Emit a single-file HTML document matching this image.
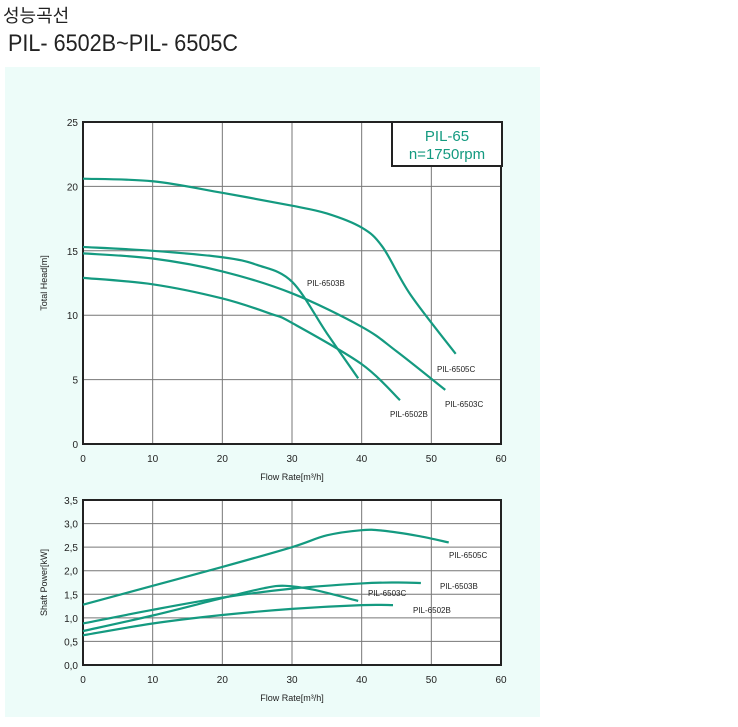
<!DOCTYPE html>
<html><head><meta charset="utf-8"><style>
body{margin:0;width:738px;height:727px;background:#fff;position:relative;overflow:hidden;font-family:"Liberation Sans","Noto Sans CJK KR",sans-serif}
.t1{position:absolute;left:3px;top:2px;font-size:18px;color:#222}
.t2{position:absolute;left:8px;top:30px;font-size:24px;color:#222;transform:scaleX(0.9);transform-origin:left top;white-space:nowrap}
svg{position:absolute;left:0;top:0}
</style></head><body>
<div class="t1">성능곡선</div>
<div class="t2">PIL- 6502B~PIL- 6505C</div>
<svg id="c" width="738" height="727"></svg>
<script>
const xTicks=[0,10,20,30,40,50,60];
const headTicks=[0,5,10,15,20,25];
const powerTicks=["0,0","0,5","1,0","1,5","2,0","2,5","3,0","3,5"];
const headNames=["PIL-6505C","PIL-6503B","PIL-6503C","PIL-6502B"];
const head6505C=[[0,20.6],[10,20.4],[20,19.5],[30,18.5],[35,17.9],[40,16.8],[43,15.3],[47,11.6],[53.5,7]];
const head6503B=[[0,15.3],[10,15],[20,14.5],[25,13.9],[30,12.6],[35,8.6],[39.5,5.1]];
const head6503C=[[0,14.8],[10,14.4],[20,13.4],[30,11.7],[40,9.1],[45,7.2],[52,4.2]];
const head6502B=[[0,12.9],[10,12.4],[20,11.3],[27,10.1],[30,9.4],[40,6.2],[45.5,3.4]];
const pow6505C=[[0,1.28],[10,1.68],[20,2.08],[30,2.5],[35,2.75],[40,2.86],[43,2.85],[48,2.74],[52.5,2.6]];
const pow6503B=[[0,0.88],[10,1.17],[20,1.43],[30,1.62],[40,1.73],[45,1.75],[48.5,1.74]];
const pow6503C=[[0,0.72],[10,1.05],[20,1.42],[26,1.63],[29,1.68],[33,1.6],[39.5,1.36]];
const pow6502B=[[0,0.63],[10,0.88],[20,1.06],[30,1.19],[40,1.27],[44.5,1.27]];
const NS="http://www.w3.org/2000/svg";
const svg=document.getElementById('c');
const GREEN="#149a80";
function el(t,a,p){const e=document.createElementNS(NS,t);for(const k in a)e.setAttribute(k,a[k]);(p||svg).appendChild(e);return e;}
function txt(s,x,y,size,anchor,extra){const e=el('text',Object.assign({x:x,y:y,'font-size':size,'text-anchor':anchor||'middle',fill:'#222','font-family':'Liberation Sans, sans-serif'},extra||{}));e.textContent=s;return e;}
const bg=el('rect',{x:5,y:67,width:535,height:650,fill:'#edfcf9'});


function path(pts,sx,sy){
  const P=pts.map(p=>[sx(p[0]),sy(p[1])]);
  let d='M'+P[0][0]+' '+P[0][1];
  for(let i=0;i<P.length-1;i++){
    const p0=P[i-1]||P[i],p1=P[i],p2=P[i+1],p3=P[i+2]||p2;
    d+=' C'+(p1[0]+(p2[0]-p0[0])/6)+' '+(p1[1]+(p2[1]-p0[1])/6)+' '+(p2[0]-(p3[0]-p1[0])/6)+' '+(p2[1]-(p3[1]-p1[1])/6)+' '+p2[0]+' '+p2[1];
  }
  return d;
}
function chart(L,R,T,B,ymax,yTicks,yLabels,yTitle,series,names,labelPos,name){
  const g=el('g',{});
  
  
  const sx=v=>L+(R-L)*v/60, sy=v=>B-(B-T)*v/ymax;
  el('rect',{x:L,y:T,width:R-L,height:B-T,fill:'#fff'},g);
  xTicks.forEach(v=>{if(v>0&&v<60)el('line',{x1:sx(v),x2:sx(v),y1:T,y2:B,stroke:'#777','stroke-width':1},g);
    const t=txt(String(v),sx(v),B+18,10,'middle');g.appendChild(t);});
  yTicks.forEach((v,i)=>{if(v>0&&v<ymax)el('line',{x1:L,x2:R,y1:sy(v),y2:sy(v),stroke:'#777','stroke-width':1},g);
    const t=txt(yLabels[i],L-5,sy(v)+4,10,'end');g.appendChild(t);});
  el('rect',{x:L,y:T,width:R-L,height:B-T,fill:'none',stroke:'#222','stroke-width':2},g);
  const xt=txt('Flow Rate[m³/h]',(L+R)/2,B+36,9,'middle');g.appendChild(xt);
  
  const yt=txt(yTitle,0,0,9,'middle',{transform:'translate('+(L-36)+','+((T+B)/2)+') rotate(-90)'});g.appendChild(yt);
  
  series.forEach((s,i)=>{
    const p=el('path',{d:path(s,sx,sy),fill:'none',stroke:GREEN,'stroke-width':2.2},g);
    
    
    const t=txt(names[i],labelPos[i][0],labelPos[i][1],8,'start');g.appendChild(t);
    
    
  });
  return g;
}
chart(83,501,122,444,25,headTicks,headTicks.map(String),'Total Head[m]',
  [head6505C,head6503B,head6503C,head6502B],headNames,[[437,372],[307,286],[445,407],[390,417]],'head-chart');
chart(83,501,500,665,3.5,[0,0.5,1,1.5,2,2.5,3,3.5],powerTicks,'Shaft Power[kW]',
  [pow6505C,pow6503B,pow6503C,pow6502B],headNames,[[449,558],[440,589],[368,596],[413,613]],'power-chart');
const lb=el('rect',{x:392,y:122,width:110,height:44,fill:'#fff',stroke:'#222','stroke-width':2});


const l1=txt('PIL-65',447,141,15,'middle',{fill:GREEN});


const l2=txt('n=1750rpm',447,159,15,'middle',{fill:GREEN});


</script>
</body></html>
